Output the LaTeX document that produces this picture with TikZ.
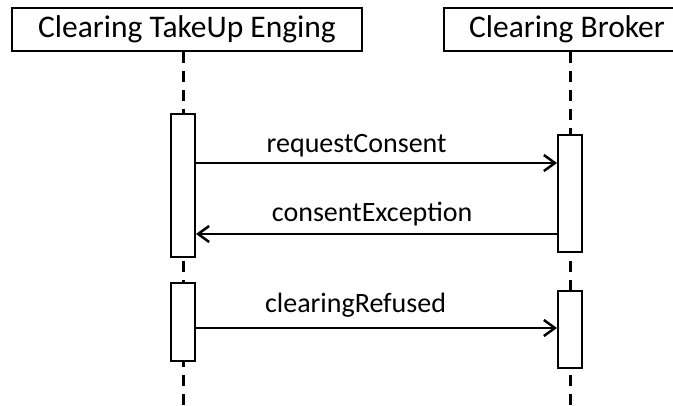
\documentclass[tikz,border=0pt]{standalone}
\usepackage{fontspec}
\setmainfont{Carlito}
\usetikzlibrary{arrows.meta}

\begin{document}
\begin{tikzpicture}[x=1pt, y=-1pt, >={Straight Barb[length=11pt,width=16pt]},
                    header/.style={rectangle, draw=black, line width=2pt, fill=white, inner sep=0pt,
                                   minimum height=43pt, font=\fontsize{31.5}{36}\selectfont},
                    activation/.style={rectangle, draw=black, line width=2pt, fill=white, inner sep=0pt,
                                       minimum width=24pt},
                    lifeline/.style={line width=3pt, dash pattern=on 11pt off 8pt},
                    message/.style={->, line width=2.5pt},
                    msglabel/.style={anchor=base, inner sep=0pt, font=\fontsize{28}{32}\selectfont}]

    \useasboundingbox (0,0) rectangle (673,406);
    \clip (0,0) rectangle (673,406);

    % Participants
    \node[header, minimum width=350pt] (engine) at (187,29.5) {Clearing TakeUp Enging}; % left header
    \node[header, minimum width=246pt] (broker) at (567,29.5) {Clearing Broker}; % right header, cut by the border

    % Lifeline ends
    \coordinate (engineEnd) at (183,406);
    \coordinate (brokerEnd) at (570,406);

    % Lifelines
    \draw[lifeline] (engineEnd |- engine.south) -- (engineEnd);
    \draw[lifeline] (brokerEnd |- broker.south) -- (brokerEnd);

    % Activation boxes
    \node[activation, minimum height=143pt] (engineAct1) at (183,185.5) {}; % first call
    \node[activation, minimum height=78pt]  (engineAct2) at (183,322) {};   % second call
    \node[activation, minimum height=117pt] (brokerAct1) at (570,193.5) {}; % handles request
    \node[activation, minimum height=77pt]  (brokerAct2) at (570,329.5) {}; % handles refusal

    % Message heights
    \coordinate (req) at (0,163);
    \coordinate (exc) at (0,234);
    \coordinate (ref) at (0,328);

    % Messages
    \draw[message] (engineAct1.east |- req) -- node[msglabel, pos=0.445, yshift=10pt] {requestConsent} (brokerAct1.west |- req);
    \draw[message] (brokerAct1.west |- exc) -- node[msglabel, pos=0.512, yshift=12pt] {consentException} (engineAct1.east |- exc);
    \draw[message] (engineAct2.east |- ref) -- node[msglabel, pos=0.442, yshift=15pt] {clearingRefused} (brokerAct2.west |- ref);
\end{tikzpicture}
\end{document}
